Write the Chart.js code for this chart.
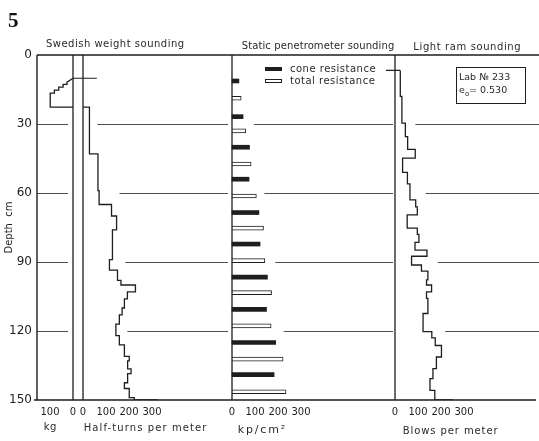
<!DOCTYPE html>
<html>
<head>
<meta charset="utf-8">
<script src="https://cdn.jsdelivr.net/npm/chart.js@4.4.1/dist/chart.umd.min.js"></script>
<style>
  html, body { margin: 0; padding: 0; background: #fff; }
  #c { display: block; }
</style>
</head>
<body>
<canvas id="c" width="539" height="441"></canvas>
<script>
// ---- depth axis and value ticks ----
const depthTicks = [0, 30, 60, 90, 120, 150];
const scaleTicks = [0, 100, 200, 300];
const kgTicks = [0, 100];

// ---- Swedish weight sounding: load stages (kg) ----
const kgStartDepth = 10.1;
const kgDepth = [11.8, 12.8, 14.0, 15.3, 16.6, 22.7];
const kgLoad = [26, 43, 62, 81, 99];

// ---- Swedish weight sounding: half-turns per meter ----
const htDepth = [22.7, 43, 59, 65, 70, 76, 89, 93.5, 98, 100, 103, 106, 110, 113, 117, 122, 126, 131, 133, 136.5, 138.5, 142.5, 145, 149, 150];
const htValue = [28, 65, 70, 124, 146, 128, 115, 150, 165, 228, 193, 180, 170, 158, 143, 158, 180, 201, 194, 209, 194, 180, 201, 223];
const htEnd = 325;

// ---- static penetrometer sounding (kp/cm2) ----
const coneDepth = [11.3, 26.8, 40.1, 54, 68.5, 82.2, 96.6, 110.6, 125, 139];
const coneValue = [30, 48, 76, 74, 117, 122, 154, 150, 190, 183];
const totalDepth = [18.8, 33, 47.4, 61.3, 75.3, 89.4, 103.3, 117.8, 132.2, 146.4];
const totalValue = [40, 60, 83, 106, 137, 143, 172, 170, 222, 235];

// ---- light ram sounding: blows per meter ----
const ramDepth = [6.7, 18, 29.6, 35.5, 41, 44.8, 51, 56, 63, 66, 69.5, 75.3, 78, 81.5, 84.8, 87.5, 91.3, 94, 97.8, 100, 103, 105.8, 112.4, 120.3, 123, 126.3, 131.3, 136.4, 140.7, 145.8, 150];
const ramValue = [23, 30, 45, 55, 88, 33, 54, 65, 90, 97, 53, 97, 104, 87, 139, 72, 115, 143, 137, 159, 137, 143, 122, 160, 175, 202, 180, 165, 152, 173];
const ramEnd = 252;

// ---- sheet geometry ----
const W = 539, H = 441;
const PLOT = { left: 37, right: 535, top: 55, bottom: 400 };
const PX_PER_100 = 23;
const ZERO = { kg: 73, ht: 83, st: 232, bl: 395 };
const INK = '#1e1e1e';
const FONT = '"DejaVu Sans", "Liberation Sans", sans-serif';

function span(zeroPx, reverse) {
  const u = 100 / PX_PER_100;
  if (reverse) return { min: -(PLOT.right - zeroPx) * u, max: (zeroPx - PLOT.left) * u };
  return { min: -(zeroPx - PLOT.left) * u, max: (PLOT.right - zeroPx) * u };
}

function stepPath(depths, values) {
  const pts = [];
  values.forEach((v, i) => {
    pts.push({ x: v, y: depths[i] }, { x: v, y: depths[i + 1] });
  });
  return pts;
}

const kgPath = [{ x: 0, y: kgStartDepth }]
  .concat(stepPath(kgDepth, kgLoad))
  .concat([{ x: 0, y: kgDepth[kgDepth.length - 1] }]);
const htPath = [{ x: 0, y: htDepth[0] }]
  .concat(stepPath(htDepth, htValue))
  .concat([{ x: htEnd, y: htDepth[htDepth.length - 1] }]);
const ramPath = stepPath(ramDepth, ramValue)
  .concat([{ x: ramEnd, y: ramDepth[ramDepth.length - 1] }]);

function xAxis(zeroPx, ticks, reverse) {
  const r = span(zeroPx, reverse);
  return {
    type: 'linear', axis: 'x', position: { y: 150 }, reverse: !!reverse,
    min: r.min, max: r.max,
    grid: { display: false, drawTicks: false }, border: { display: false },
    afterBuildTicks: s => { s.ticks = ticks.map(v => ({ value: v })); },
    ticks: { autoSkip: false, maxRotation: 0, padding: 6, color: INK,
             font: { family: FONT, size: 10 } }
  };
}

function zeroLine(axisId) {
  return { type: 'scatter', xAxisID: axisId, yAxisID: 'y', showLine: true,
           data: [{ x: 0, y: 0 }, { x: 0, y: 150 }],
           borderColor: INK, borderWidth: 1.3, pointRadius: 0 };
}

function profile(axisId, pts) {
  return { type: 'scatter', xAxisID: axisId, yAxisID: 'y', showLine: true, data: pts,
           borderColor: INK, borderWidth: 1.3, pointRadius: 0, tension: 0 };
}

// largest profile value whose step overlaps depth d +/- w
function stepMaxNear(depths, values, d, w) {
  let m = 0;
  values.forEach((v, i) => {
    if (depths[i] <= d + w && depths[i + 1] >= d - w) m = Math.max(m, v);
  });
  return m;
}
function barMaxNear(depths, values, d, w) {
  let m = 0;
  depths.forEach((dd, i) => { if (Math.abs(dd - d) <= w) m = Math.max(m, values[i]); });
  return m;
}

function spaced(ctx, text, x, y, spacing) {
  ctx.letterSpacing = spacing + 'px';
  const extra = ctx.textAlign === 'center' ? spacing / 2 : 0;
  ctx.fillText(text, x + extra, y);
  ctx.letterSpacing = '0px';
}

const sheet = {
  id: 'sheet',
  beforeDatasetsDraw(chart) {
    const { ctx, chartArea: a, scales } = chart;
    const { y, xKg, xHt, xSt, xBl } = scales;
    ctx.save();
    ctx.strokeStyle = '#4d4d4d';
    ctx.lineWidth = 1;
    depthTicks.filter(d => d > 0 && d < 150).forEach(d => {
      const py = Math.round(y.getPixelForValue(d)) + 0.5;
      const kg0 = xKg.getPixelForValue(0);
      const htGap = xHt.getPixelForValue(Math.max(stepMaxNear(htDepth, htValue, d, 5), 0)) + 8;
      const st0 = xSt.getPixelForValue(0);
      const stGap = xSt.getPixelForValue(Math.max(barMaxNear(coneDepth, coneValue, d, 7),
                                                  barMaxNear(totalDepth, totalValue, d, 7))) + 8;
      const bl0 = xBl.getPixelForValue(0);
      const blGap = xBl.getPixelForValue(stepMaxNear(ramDepth, ramValue, d, 5)) + 10;
      const segs = [[a.left, kg0 - 5], [htGap, st0 - 4], [stGap, bl0 - 2], [blGap, W]];
      ctx.beginPath();
      segs.forEach(([x1, x2]) => { if (x2 > x1) { ctx.moveTo(x1, py); ctx.lineTo(x2, py); } });
      ctx.stroke();
    });
    ctx.restore();
  },
  afterDatasetsDraw(chart) {
    const { ctx, chartArea: a, scales } = chart;
    const { y, xKg, xHt, xSt, xBl } = scales;
    ctx.save();
    // frame
    ctx.strokeStyle = INK;
    ctx.lineWidth = 1.4;
    ctx.beginPath();
    ctx.moveTo(a.left, a.top); ctx.lineTo(W, a.top);
    ctx.moveTo(a.left, a.top); ctx.lineTo(a.left, a.bottom);
    ctx.moveTo(a.left - 3, a.bottom); ctx.lineTo(W - 3, a.bottom);
    ctx.stroke();

    // start marks of the two soundings
    ctx.lineWidth = 1.2;
    ctx.beginPath();
    let py = y.getPixelForValue(kgStartDepth);
    ctx.moveTo(xKg.getPixelForValue(0), py); ctx.lineTo(xHt.getPixelForValue(60), py);
    py = y.getPixelForValue(ramDepth[0]);
    ctx.moveTo(xBl.getPixelForValue(0) - 9, py); ctx.lineTo(xBl.getPixelForValue(ramValue[0]), py);
    ctx.stroke();

    ctx.fillStyle = '#2a2a2a';
    ctx.textBaseline = 'middle';
    ctx.textAlign = 'center';
    ctx.font = '10px ' + FONT;
    // panel titles
    spaced(ctx, 'Swedish weight sounding', 115, 44, 0.5);
    spaced(ctx, 'Static penetrometer sounding', 318, 46, 0.1);
    spaced(ctx, 'Light ram sounding', 467, 47, 0.6);
    // axis units
    spaced(ctx, 'kg', xKg.getPixelForValue(100), 427, 0.5);
    spaced(ctx, 'Half-turns per meter', xHt.getPixelForValue(270), 428, 1.1);
    ctx.font = '11px ' + FONT;
    spaced(ctx, 'kp/cm\u00B2', xSt.getPixelForValue(128), 430, 1.8);
    ctx.font = '10px ' + FONT;
    spaced(ctx, 'Blows per meter', xBl.getPixelForValue(240), 431, 0.9);

    // legend for the static penetrometer bars
    const lx = xSt.getPixelForValue(0) + 33;
    const ly1 = a.top + 14, ly2 = a.top + 26;
    ctx.fillStyle = INK;
    ctx.fillRect(lx, ly1 - 2, 17, 4);
    ctx.fillStyle = '#fff';
    ctx.strokeStyle = INK;
    ctx.lineWidth = 1;
    ctx.fillRect(lx, ly2 - 2, 17, 4);
    ctx.strokeRect(lx + 0.5, ly2 - 1.5, 16, 3);
    ctx.fillStyle = '#2a2a2a';
    ctx.textAlign = 'left';
    spaced(ctx, 'cone resistance', lx + 25, ly1, 0.5);
    spaced(ctx, 'total resistance', lx + 25, ly2, 0.5);

    // sample box
    const bx = a.right - 79, by = a.top + 12;
    ctx.strokeStyle = INK;
    ctx.lineWidth = 1;
    ctx.strokeRect(bx + 0.5, by + 0.5, 69, 36);
    ctx.font = '9.5px ' + FONT;
    ctx.fillText('Lab \u2116 233', bx + 3, by + 11);
    ctx.fillText('e', bx + 3, by + 24);
    ctx.font = '7px ' + FONT;
    ctx.fillText('o', bx + 9, by + 27);
    ctx.font = '9.5px ' + FONT;
    ctx.fillText('= 0.530', bx + 13, by + 24);

    // figure number
    ctx.font = 'bold 21px "Liberation Serif", "DejaVu Serif", serif';
    ctx.textBaseline = 'alphabetic';
    ctx.fillStyle = '#111';
    ctx.fillText('5', 8, 27);
    ctx.restore();
  }
};

new Chart(document.getElementById('c'), {
  type: 'scatter',
  data: {
    datasets: [
      zeroLine('xKg'),
      zeroLine('xHt'),
      zeroLine('xSt'),
      zeroLine('xBl'),
      profile('xKg', kgPath),
      profile('xHt', htPath),
      profile('xBl', ramPath),
      {
        type: 'bar', label: 'cone resistance', indexAxis: 'y', xAxisID: 'xSt', yAxisID: 'y',
        data: coneDepth.map((d, i) => ({ x: coneValue[i], y: d })),
        backgroundColor: INK, borderWidth: 0, barThickness: 4, grouped: false
      },
      {
        type: 'bar', label: 'total resistance', indexAxis: 'y', xAxisID: 'xSt', yAxisID: 'y',
        data: totalDepth.map((d, i) => ({ x: totalValue[i], y: d })),
        backgroundColor: '#fff', borderColor: INK, borderWidth: 1, barThickness: 4, grouped: false
      }
    ]
  },
  options: {
    responsive: false,
    animation: false,
    events: [],
    layout: { padding: { left: 0, top: PLOT.top, right: W - PLOT.right, bottom: H - PLOT.bottom } },
    plugins: { legend: { display: false }, tooltip: { enabled: false } },
    scales: {
      y: {
        type: 'linear', axis: 'y', position: 'left', reverse: true, min: 0, max: 150,
        offset: false,
        grid: { display: false, drawTicks: false, offset: false }, border: { display: false },
        afterBuildTicks: s => { s.ticks = depthTicks.map(v => ({ value: v })); },
        afterFit: s => { s.width = PLOT.left; },
        ticks: { padding: 5, color: INK, font: { family: FONT, size: 12 } },
        title: { display: true, text: 'Depth  cm', color: INK, font: { family: FONT, size: 10 },
                 padding: { top: 3, bottom: 0 } }
      },
      xKg: xAxis(ZERO.kg, kgTicks, true),
      xHt: xAxis(ZERO.ht, scaleTicks, false),
      xSt: xAxis(ZERO.st, scaleTicks, false),
      xBl: xAxis(ZERO.bl, scaleTicks, false)
    }
  },
  plugins: [sheet]
});
</script>
</body>
</html>
